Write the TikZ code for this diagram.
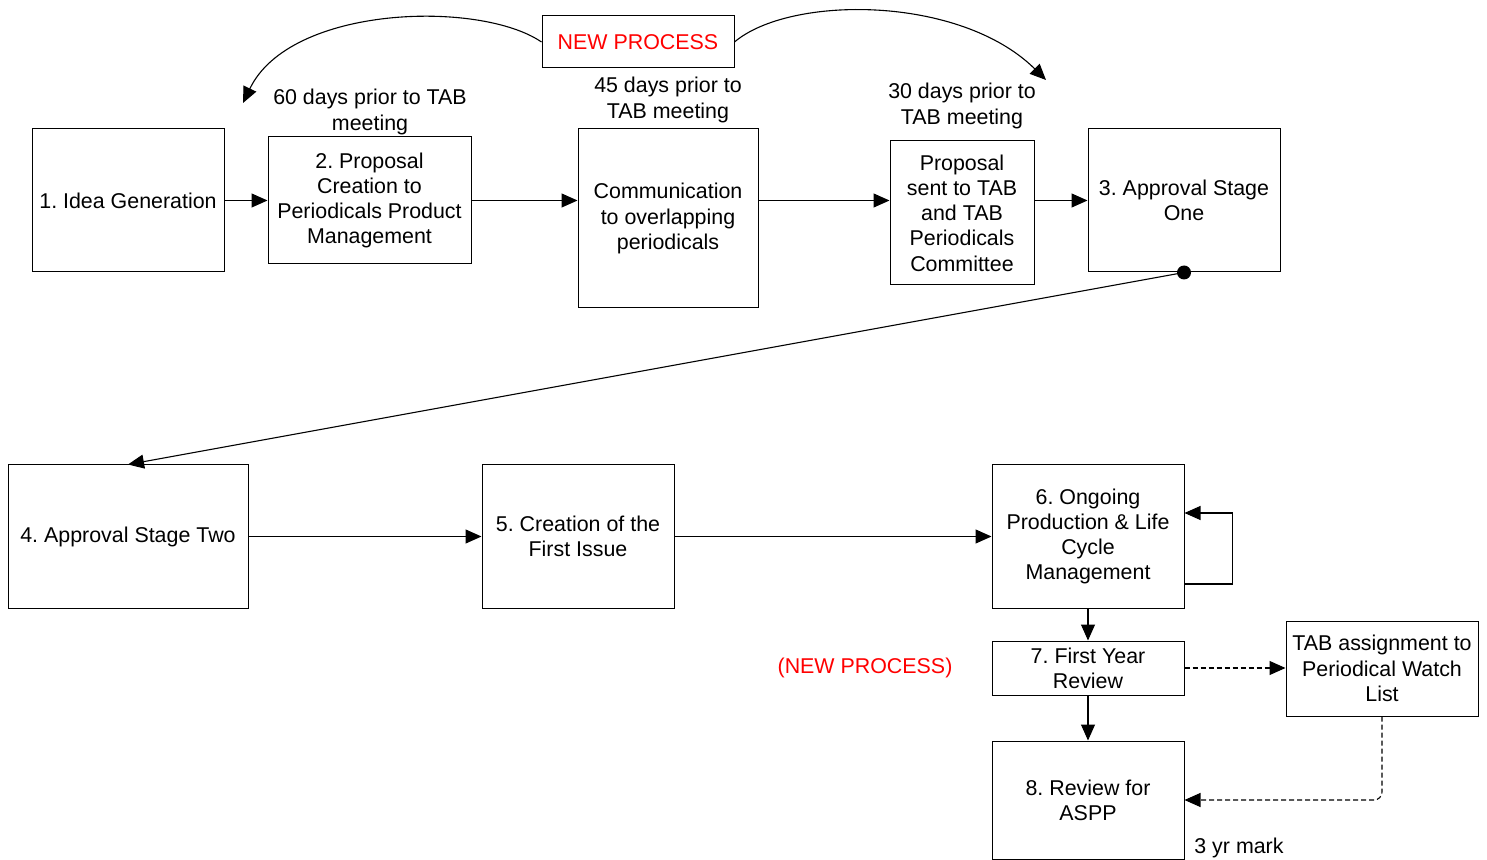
\documentclass[tikz,border=0pt]{standalone}
\usepackage{fontspec}
\setmainfont{Liberation Sans}
\usetikzlibrary{arrows.meta}
\definecolor{procred}{RGB}{255,0,0}
\frenchspacing
\tikzset{
  box/.style={draw=black, line width=0.5pt, align=center, inner sep=1pt,
    font=\fontsize{10.7pt}{12.65pt}\selectfont},
  lbl/.style={align=center, inner sep=0pt, font=\fontsize{10.7pt}{12.65pt}\selectfont},
  arr/.style={line width=0.55pt, -{Triangle[length=8pt,width=7pt]}},
  dasharr/.style={arr, dash pattern=on 2.5pt off 1.5pt},
}
\begin{document}
\begin{tikzpicture}[x=0.5pt,y=-0.5pt]
\useasboundingbox (0,0) rectangle (1487,860);

% top row
\node[box, minimum width=96pt, minimum height=71.5pt] (idea) at (128,200.5) {1. Idea Generation};
\node[box, minimum width=101.5pt, minimum height=63.5pt] (prop) at (369.5,200.5)
  {2. Proposal\\Creation to\\Periodicals Product\\Management};
\node[box, minimum width=90pt, minimum height=89.5pt] (comm) at (668,218.5)
  {Communication\\to overlapping\\periodicals};
\node[box, minimum width=72pt, minimum height=72pt] (sent) at (962,213)
  {Proposal\\sent to TAB\\and TAB\\Periodicals\\Committee};
\node[box, minimum width=96pt, minimum height=71.5pt] (appone) at (1184,200.5)
  {3. Approval Stage\\One};
\node[box, minimum width=96pt, minimum height=26pt, text=procred] (newproc) at (638,42) {NEW PROCESS};

% timing notes
\node[lbl] (t60) at (370,112) {60 days prior to TAB\\meeting};
\node[lbl] (t45) at (668,100) {45 days prior to\\TAB meeting};
\node[lbl] (t30) at (962,106) {30 days prior to\\TAB meeting};

% second row
\node[box, minimum width=120pt, minimum height=71.5pt] (apptwo) at (128,536.5) {4. Approval Stage Two};
\node[box, minimum width=96pt, minimum height=71.5pt] (first) at (578,536.5) {5. Creation of the\\First Issue};
\node[box, minimum width=96pt, minimum height=71.5pt] (ongoing) at (1088,536.5)
  {6. Ongoing\\Production \& Life\\Cycle\\Management};

% review column
\node[box, minimum width=96pt, minimum height=27pt] (yearrev) at (1088,668) {7. First Year\\Review};
\node[box, minimum width=96pt, minimum height=59pt] (aspp) at (1088,800) {8. Review for\\ASPP};
\node[box, minimum width=96pt, minimum height=47.5pt] (watch) at (1382,668.5)
  {TAB assignment to\\Periodical Watch\\List};
\node[lbl, text=procred] (newproc2) at (865,668) {(NEW PROCESS)};
\node[lbl, anchor=west] (mark) at (1194,848) {3 yr mark};

% connectors, top row
\draw[arr] (idea.east) -- (prop.west);
\draw[arr] (prop.east) -- (prop.east -| comm.west);
\draw[arr] (comm.east |- prop.east) -- (sent.west |- prop.east);
\draw[arr] (sent.east |- appone.west) -- (appone.west);
\draw[arr] (newproc.west) .. controls (480,0) and (290,5) .. (243,103);
\draw[arr] (newproc.east) .. controls (790,-5) and (960,-5) .. (1046,80);

% hand-over to the second row
\fill (appone.south) circle (3.5pt);
\draw[arr] (appone.south) -- (apptwo.north);

% connectors, second row
\draw[arr] (apptwo.east) -- (first.west);
\draw[arr] (first.east) -- (ongoing.west);
\draw[arr] ([yshift=-23.75pt]ongoing.east) -- ++(24pt,0) |- ([yshift=11.75pt]ongoing.east);

% review column
\draw[arr] (ongoing.south) -- (yearrev.north);
\draw[arr] (yearrev.south) -- (aspp.north);
\draw[dasharr] (yearrev.east) -- (yearrev.east -| watch.west);
\draw[dasharr, rounded corners=4pt] (watch.south) |- (aspp.east);
\end{tikzpicture}
\end{document}
